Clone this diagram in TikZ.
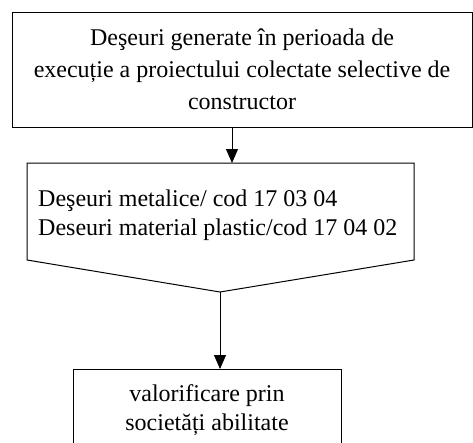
\documentclass[tikz,border=0pt]{standalone}
\usepackage{fontspec}
\setmainfont{Liberation Serif}
\usetikzlibrary{arrows.meta, positioning, calc}

\begin{document}
\begin{tikzpicture}[
    x=1pt, y=-1pt,
    every node/.style={font=\fontsize{24}{29}\selectfont},
    stage/.style={draw, line width=1pt, inner sep=0pt, align=center},
    arr/.style={-{Triangle[length=14pt, width=12pt]}, line width=1pt}
]
    \clip (0,0) rectangle (473,442);

    % sursa deseurilor
    \node[stage, minimum width=460pt, minimum height=115pt,
          font=\fontsize{24}{32}\selectfont] (gen) at (242,69.5)
        {Deşeuri generate în perioada de\\
         execuție a proiectului colectate selective de\\
         constructor};

    % categorii colectate
    \coordinate (sortnw) at (27,163);
    \coordinate (sortne) at (414,163);
    \coordinate (sortse) at (414,260);
    \coordinate (sorttip) at (220,292);
    \coordinate (sortsw) at (27,260);
    \draw[line width=1pt] (sortnw) -- (sortne) -- (sortse) -- (sorttip) -- (sortsw) -- cycle;
    \node[anchor=north west, align=left, inner sep=0pt] (sort) at (38,190)
        {Deşeuri metalice/ cod 17 03 04\\
         Deseuri material plastic/cod 17 04 02};

    % destinatie
    \node[stage, minimum width=268pt, anchor=north, inner ysep=15pt] (val) at (207,369)
        {valorificare prin\\
         societăți abilitate};

    \draw[arr] (gen.south -| 232,0) -- (sortnw -| 232,0);
    \draw[arr] (sorttip) -- (val.north -| sorttip);
\end{tikzpicture}
\end{document}
